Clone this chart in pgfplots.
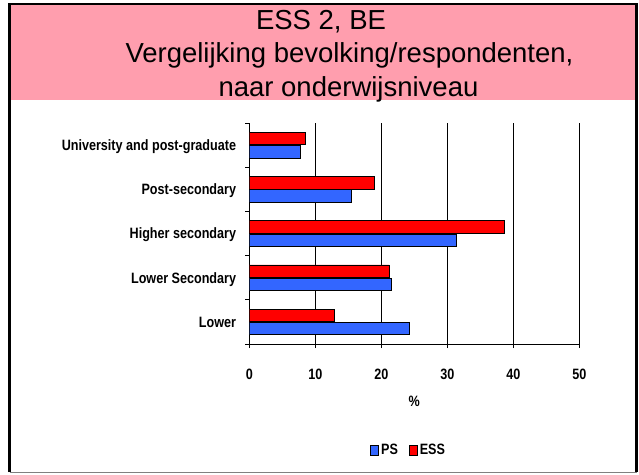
\documentclass[border=0pt]{standalone}
\usepackage{fontspec}
\setmainfont{Liberation Sans}
\newfontfamily\nb{Liberation Sans}[FakeStretch=0.84]
\usepackage{pgfplots}
\pgfplotsset{compat=1.18}
\definecolor{pinkbg}{RGB}{255,158,174}
\definecolor{psblue}{RGB}{51,102,255}
\definecolor{essred}{RGB}{255,0,0}

\pgfplotstableread{
cat val
0 24.2
1 21.6
2 31.4
3 15.5
4 7.7
}\pstable
\pgfplotstableread{
cat val
0 12.9
1 21.2
2 38.7
3 19.0
4 8.5
}\esstable

\begin{document}
\begin{tikzpicture}[x=1pt,y=1pt]
\useasboundingbox (0pt,0pt) rectangle (639pt,474pt);
\fill[white] (0pt,0pt) rectangle (639pt,474pt);
\fill[pinkbg] (9.5pt,374pt) rectangle (636.5pt,470pt);
\draw[black, line width=2pt] (8.5pt,469.7pt) -- (637.5pt,469.7pt);
\draw[black, line width=2.5pt] (9.5pt,2pt) -- (9.5pt,470.7pt);
\draw[black, line width=2.5pt] (636.5pt,2pt) -- (636.5pt,470.7pt);
\draw[gray, line width=1pt] (9.5pt,2pt) -- (636.5pt,2pt);
\node[anchor=base, inner sep=0pt] at (321pt,444pt) {\fontsize{27.5}{33}\selectfont ESS 2, BE};
\node[anchor=base, inner sep=0pt] at (349.5pt,411pt) {\fontsize{27.5}{33}\selectfont Vergelijking bevolking/respondenten,};
\node[anchor=base, inner sep=0pt] at (348.5pt,377.5pt) {\fontsize{27.5}{33}\selectfont naar onderwijsniveau};
\begin{axis}[
  at={(249.3pt,130pt)}, anchor=south west,
  scale only axis, width=330pt, height=221pt,
  xbar=0.8pt, bar width=12.4pt,
  xmin=0, xmax=50, ymin=-0.5, ymax=4.5,
  xtick={0,10,...,50},
  ytick={0,...,4},
  yticklabels={Lower, Lower Secondary, Higher secondary, Post-secondary, University and post-graduate},
  minor ytick={-0.5,0.5,...,4.5},
  axis lines*=left,
  axis line style={-, black, line width=1pt},
  tick align=outside,
  major tick length=4pt, minor tick length=4pt,
  major y tick style={draw=none},
  minor y tick style={black, line width=0.8pt},
  major x tick style={black, line width=0.8pt},
  xmajorgrids, ymajorgrids=false,
  major x grid style={black, line width=0.8pt},
  /pgf/number format/assume math mode=true,
  tick label style={font=\nb\bfseries\fontsize{15}{18}\selectfont, inner sep=0pt},
  xticklabel style={anchor=base, yshift=-31pt},
  yticklabel style={anchor=base east, xshift=-9pt, yshift=-5.3pt},
  xlabel={\%},
  xlabel style={font=\nb\bfseries\fontsize{15}{18}\selectfont, at={(axis description cs:0.5,-0.26)}, anchor=center},
  legend style={at={(axis description cs:0.483,-0.48)}, anchor=center, draw=none, fill=none,
    legend columns=2, font=\nb\bfseries\fontsize{15}{18}\selectfont,
    /tikz/every even column/.append style={column sep=9pt},
    inner sep=0pt},
  legend image code/.code={\draw[#1, draw=black, line width=0.8pt] (0pt,-5pt) rectangle (8pt,5pt);},
]
\addplot[fill=psblue, draw=black, line width=0.8pt] table[x=val, y=cat] {\pstable};
\addplot[fill=essred, draw=black, line width=0.8pt] table[x=val, y=cat] {\esstable};
\legend{PS, ESS}
\end{axis}
\end{tikzpicture}
\end{document}
